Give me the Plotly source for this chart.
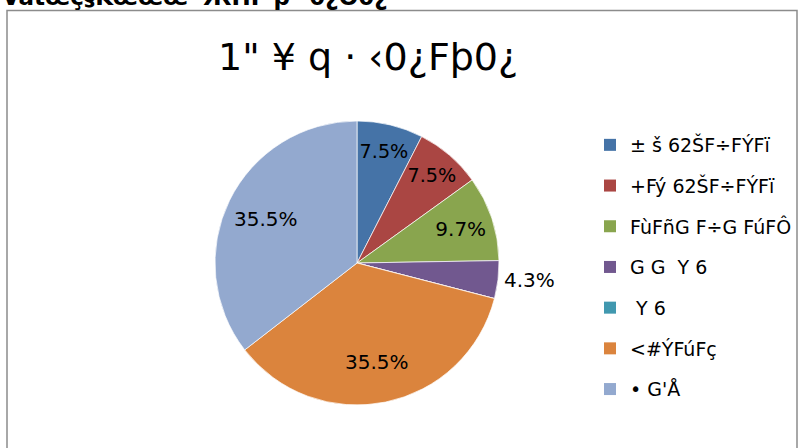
import math
import plotly.graph_objects as go

# ---- data ----
categories = ["± š 62ŠF÷FÝFï", "+Fý 62ŠF÷FÝFï", "FùFñG F÷G FúFÔ", "G G  Y 6", " Y 6", "<#ÝFúFç", "• G'Å"]
counts = [7, 7, 9, 4, 0, 33, 33]
colors = ["#4573A7", "#AA4643", "#89A54E", "#71588F", "#4198AF", "#DB843D", "#93A9CF"]
label_pos = ["inside", "inside", "inside", "outside", "inside", "inside", "inside"]
title_text = "1\" ¥ q · ‹0¿Fþ0¿"
header_text = "Vàtœç§Kœœœ' ЖΠΓ þ ˇ0¿Ö0¿"

W, H = 806, 448
FONT = "DejaVu Sans, Liberation Sans, Arial"
total = sum(counts)
pct = [c / total * 100 for c in counts]

# large slices get their labels further out (like the reference), via annotations
big = [p > 30 for p in pct]
slice_text = [f"{p:.1f}%" if (c and not b) else "" for p, c, b in zip(pct, counts, big)]

fig = go.Figure()

# pie centre (357,263), radius ~142 px
cx, cy, r = 357, 263, 142
fig.add_trace(go.Pie(
    labels=categories, values=counts, sort=False, direction="clockwise", rotation=0,
    marker=dict(colors=colors, line=dict(color="white", width=0.7)),
    text=slice_text, textinfo="text", textposition=label_pos,
    insidetextorientation="horizontal",
    textfont=dict(family=FONT, size=20, color="black"),
    domain=dict(x=[(cx - r) / W, (cx + r) / W], y=[1 - (cy + r) / H, 1 - (cy - r) / H]),
    showlegend=False, hoverinfo="label+percent",
))

annotations = []
cum = 0.0
for p, b in zip(pct, big):
    mid = (cum + p / 2) / 100 * 2 * math.pi
    cum += p
    if b:
        d = 0.71 * r
        px = cx + d * math.sin(mid)
        py = cy - d * math.cos(mid)
        annotations.append(dict(text=f"{p:.1f}%", x=px / W, y=1 - py / H, xref="paper", yref="paper",
                                xanchor="center", yanchor="middle", showarrow=False,
                                font=dict(size=20, color="black", family=FONT)))

# legend entries (one group each so spacing can match the reference)
for i, (cat, col) in enumerate(zip(categories, colors)):
    fig.add_trace(go.Scatter(
        x=[None], y=[None], mode="markers", name=cat,
        marker=dict(symbol="square", size=12, color=col, line=dict(width=0)),
        legendgroup=f"g{i}", showlegend=True,
    ))

annotations += [
    dict(text=title_text, x=368 / W, y=1 - 57 / H, xref="paper", yref="paper",
         xanchor="center", yanchor="middle", showarrow=False,
         font=dict(size=38, color="black", family=FONT)),
    dict(text="<b>" + header_text + "</b>", x=0, y=1 + 4 / H, xref="paper", yref="paper",
         xanchor="left", yanchor="middle", showarrow=False,
         font=dict(size=23, color="black", family=FONT)),
]

fig.update_layout(
    width=W, height=H, autosize=False,
    margin=dict(l=0, r=0, t=0, b=0),
    paper_bgcolor="white", plot_bgcolor="white",
    xaxis=dict(visible=False), yaxis=dict(visible=False),
    font=dict(family=FONT, color="black"),
    legend=dict(
        x=590 / W, xanchor="left", y=1 - 126 / H, yanchor="top",
        font=dict(size=19, color="black", family=FONT),
        tracegroupgap=13, bgcolor="rgba(0,0,0,0)",
        itemclick=False, itemdoubleclick=False,
    ),
    annotations=annotations,
    shapes=[
        dict(type="path", xref="paper", yref="paper",
             path=f"M {7/W} {-0.05} L {7/W} {1-10.5/H} L {797/W} {1-10.5/H} L {797/W} {-0.05}",
             line=dict(color="#8C8C8C", width=1.5)),
    ],
)

fig.write_html("out.html", config={"displayModeBar": False},
               post_script="document.body.style.margin='0';document.body.style.overflow='hidden';")
